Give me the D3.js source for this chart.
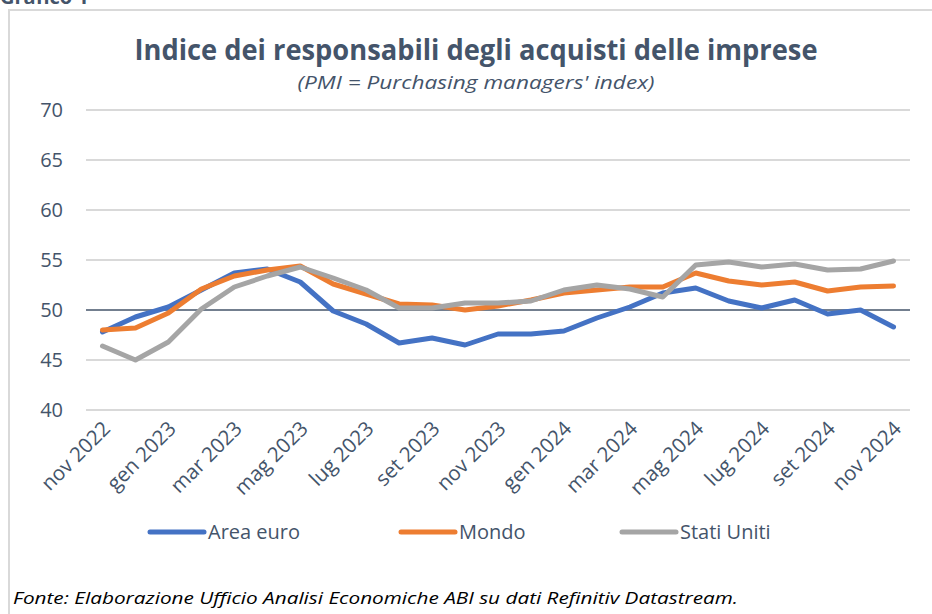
<!DOCTYPE html>
<html>
<head>
<meta charset="utf-8">
<script src="https://cdn.jsdelivr.net/npm/d3@7"></script>
<style>
  body { margin: 0; background: #fff; }
  text { font-family: "Open Sans", sans-serif; }
</style>
</head>
<body>
<svg id="chart"></svg>
<script>
// dati
const months = ["nov 2022","dic 2022","gen 2023","feb 2023","mar 2023","apr 2023","mag 2023","giu 2023",
  "lug 2023","ago 2023","set 2023","ott 2023","nov 2023","dic 2023","gen 2024","feb 2024","mar 2024",
  "apr 2024","mag 2024","giu 2024","lug 2024","ago 2024","set 2024","ott 2024","nov 2024"];
const areaEuro = [47.8,49.3,50.3,52.0,53.7,54.1,52.8,49.9,48.6,46.7,47.2,46.5,47.6,47.6,47.9,49.2,50.3,51.7,52.2,50.9,50.2,51.0,49.6,50.0,48.3];
const mondo = [48.0,48.2,49.7,52.1,53.4,54.0,54.4,52.6,51.6,50.6,50.5,50.0,50.4,51.0,51.7,52.0,52.3,52.3,53.7,52.9,52.5,52.8,51.9,52.3,52.4];
const statiUniti = [46.4,45.0,46.8,50.1,52.3,53.4,54.3,53.2,52.0,50.2,50.2,50.7,50.7,50.9,52.0,52.5,52.1,51.3,54.5,54.8,54.3,54.6,54.0,54.1,54.9];
const yTicks = [40,45,50,55,60,65,70];

const series = [
  {name: "Area euro", values: areaEuro, color: "#4472c4"},
  {name: "Mondo", values: mondo, color: "#ed7d31"},
  {name: "Stati Uniti", values: statiUniti, color: "#a5a5a5"}
];

const W = 932, H = 614;
const margin = {top: 110, right: 22, bottom: 204, left: 86};
const textCol = "#44546a";

const svg = d3.select("#chart").attr("width", W).attr("height", H);

// cornice
svg.append("path")
  .attr("d", "M9," + H + " V10 H" + W)
  .attr("fill", "none").attr("stroke", "#d9d9d9").attr("stroke-width", 2);

svg.append("text").attr("x", 0).attr("y", 4)
  .attr("font-size", 20).attr("font-weight", "bold").attr("fill", textCol)
  .text("Grafico 1");

// titolo
svg.append("text").attr("x", 476).attr("y", 60).attr("text-anchor", "middle")
  .attr("font-size", 28).attr("font-weight", "bold").attr("fill", textCol)
  .attr("textLength", 683).attr("lengthAdjust", "spacingAndGlyphs")
  .text("Indice dei responsabili degli acquisti delle imprese");
svg.append("text").attr("x", 476).attr("y", 89).attr("text-anchor", "middle")
  .attr("font-size", 18).attr("font-style", "italic").attr("fill", textCol)
  .attr("textLength", 357).attr("lengthAdjust", "spacingAndGlyphs")
  .text("(PMI = Purchasing managers' index)");

const x = d3.scaleBand().domain(months).range([margin.left, W - margin.right]);
const y = d3.scaleLinear().domain([40, 70]).range([H - margin.bottom, margin.top]);

const g = svg.append("g");

// griglia
g.selectAll("line.grid").data(yTicks).join("line")
  .attr("x1", margin.left).attr("x2", W - margin.right)
  .attr("y1", d => y(d)).attr("y2", d => y(d))
  .attr("stroke", d => d === 50 ? "#44546a" : "#d9d9d9")
  .attr("stroke-width", d => d === 50 ? 1.5 : 2);

g.selectAll("text.ytick").data(yTicks).join("text")
  .attr("x", 63).attr("y", d => y(d)).attr("dy", "0.35em")
  .attr("text-anchor", "end").attr("font-size", 20).attr("fill", textCol)
  .text(d => d);

// etichette asse x
g.selectAll("text.xtick").data(months.filter((m, i) => i % 2 === 0)).join("text")
  .attr("transform", d => "translate(" + (x(d) + x.bandwidth() / 2 + 9) + ",430) rotate(-45)")
  .attr("text-anchor", "end").attr("font-size", 20.5).attr("fill", textCol)
  .text(d => d);

// linee
const line = d3.line()
  .x((d, i) => x(months[i]) + x.bandwidth() / 2)
  .y(d => y(d));

series.forEach(s => {
  g.append("path").datum(s.values)
    .attr("d", line)
    .attr("fill", "none").attr("stroke", s.color)
    .attr("stroke-width", 5).attr("stroke-linejoin", "round").attr("stroke-linecap", "round");
});

// legenda
const legX = [150, 401, 622];
const leg = svg.selectAll("g.leg").data(series).join("g")
  .attr("transform", (d, i) => "translate(" + legX[i] + ",532)");
leg.append("line").attr("x1", 0).attr("x2", 54)
  .attr("stroke", d => d.color).attr("stroke-width", 5).attr("stroke-linecap", "round");
leg.append("text").attr("x", 58).attr("dy", "0.35em")
  .attr("font-size", 20).attr("fill", textCol).text(d => d.name);

// fonte
svg.append("text").attr("x", 13).attr("y", 604)
  .attr("font-size", 16).attr("font-style", "italic").attr("fill", "#000")
  .attr("textLength", 725).attr("lengthAdjust", "spacingAndGlyphs")
  .text("Fonte: Elaborazione Ufficio Analisi Economiche ABI su dati Refinitiv Datastream.");
</script>
</body>
</html>
